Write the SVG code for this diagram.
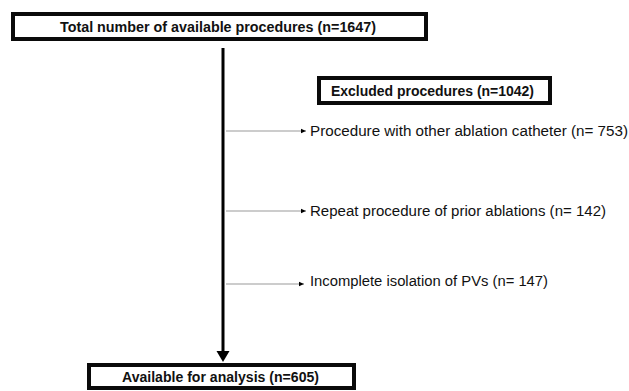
<svg xmlns="http://www.w3.org/2000/svg" width="629" height="391" viewBox="0 0 629 391">
<style>
.box{fill:#fff;stroke:#0a0a0a;stroke-width:4}
.bt{font-family:"Liberation Sans",Arial,sans-serif;font-weight:bold;font-size:14px;fill:#111}
.nt{font-family:"Liberation Sans",Arial,sans-serif;font-size:14px;fill:#111}
.br{stroke:#999;stroke-width:1.2;fill:none}
</style>
<defs>
<marker id="sm" markerWidth="6" markerHeight="6" refX="5" refY="3" orient="auto" markerUnits="userSpaceOnUse">
<path d="M0,0.8 L5,3 L0,5.2 Z" fill="#000"/>
</marker>
</defs>
<rect width="629" height="391" fill="#fff"/>
<g id="connectors">
<line x1="223" y1="48" x2="223" y2="352" stroke="#000" stroke-width="3"/>
<path d="M216.5,351 L229.5,351 L223,362 Z" fill="#000"/>
<line class="br" x1="226" y1="131" x2="306" y2="131" marker-end="url(#sm)"/>
<line class="br" x1="226" y1="211" x2="306" y2="211" marker-end="url(#sm)"/>
<line class="br" x1="226" y1="284" x2="304" y2="284" marker-end="url(#sm)"/>
</g>
<g id="total">
<rect class="box" x="13" y="14" width="413" height="25"/>
<text class="bt" x="60" y="32" textLength="316" lengthAdjust="spacingAndGlyphs">Total number of available procedures (n=1647)</text>
</g>
<g id="excluded">
<rect class="box" x="319" y="78" width="231" height="25"/>
<text class="bt" x="331" y="96" textLength="203" lengthAdjust="spacingAndGlyphs">Excluded procedures (n=1042)</text>
</g>
<g id="excl1">
<text class="nt" x="310" y="136" textLength="318" lengthAdjust="spacingAndGlyphs">Procedure with other ablation catheter (n= 753)</text>
</g>
<g id="excl2">
<text class="nt" x="310" y="216" textLength="296" lengthAdjust="spacingAndGlyphs">Repeat procedure of prior ablations (n= 142)</text>
</g>
<g id="excl3">
<text class="nt" x="310" y="286" textLength="238" lengthAdjust="spacingAndGlyphs">Incomplete isolation of PVs (n= 147)</text>
</g>
<g id="available">
<rect class="box" x="89" y="365" width="265" height="23"/>
<text class="bt" x="122" y="382" textLength="197" lengthAdjust="spacingAndGlyphs">Available for analysis (n=605)</text>
</g>
</svg>
